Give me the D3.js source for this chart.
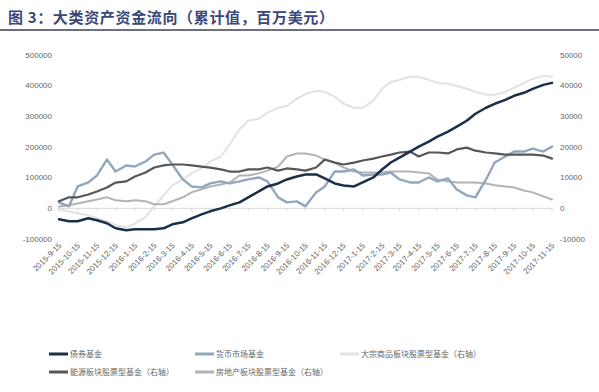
<!DOCTYPE html>
<html>
<head>
  <meta charset="utf-8">
  <title>大类资产资金流向</title>
  <style>
    body { margin: 0; background: #fff; }
    text { font-family: "Liberation Sans", Arial, "Noto Sans CJK SC", sans-serif; }
    .cjk { font-family: "Noto Sans CJK SC", sans-serif; }
    .tick-label { font-size: 8px; fill: #666; }
    .series { fill: none; stroke-linejoin: round; stroke-linecap: round; }
  </style>
</head>
<body>
  <svg id="chart" width="599" height="392"></svg>

  <script src="https://d3js.org/d3.v7.min.js"></script>
  <script>
    // semi-monthly observation dates
    const dates = [
      "2015-09-15", "2015-10-01", "2015-10-15", "2015-11-01", "2015-11-15", "2015-12-01", "2015-12-15",
      "2016-01-01", "2016-01-15", "2016-02-01", "2016-02-15", "2016-03-01", "2016-03-15",
      "2016-04-01", "2016-04-15", "2016-05-01", "2016-05-15", "2016-06-01", "2016-06-15",
      "2016-07-01", "2016-07-15", "2016-08-01", "2016-08-15", "2016-09-01", "2016-09-15",
      "2016-10-01", "2016-10-15", "2016-11-01", "2016-11-15", "2016-12-01", "2016-12-15",
      "2017-01-01", "2017-01-15", "2017-02-01", "2017-02-15", "2017-03-01", "2017-03-15",
      "2017-04-01", "2017-04-15", "2017-05-01", "2017-05-15", "2017-06-01", "2017-06-15",
      "2017-07-01", "2017-07-15", "2017-08-01", "2017-08-15", "2017-09-01", "2017-09-15",
      "2017-10-01", "2017-10-15", "2017-11-01", "2017-11-15"
    ];

    // left axis (百万美元)
    const bondFund = [
      -35700, -42200, -42200, -32500, -39000, -48700, -65000, -71400, -68200, -68200, -68200, -65000, -52000,
      -45500, -32500, -19500, -9700, 0, 9700, 19500, 35700, 55200, 71400, 81200, 94200,
      103900, 110400, 110400, 97400, 81200, 74700, 71400, 84400, 100700, 126600, 149400, 165600,
      185100, 201300, 217500, 233800, 250000, 266300, 285700, 308500, 328000, 340900, 353900, 366900,
      376700, 389600, 402600, 409100
    ];
    const moneyMarket = [
      19500, 6500, 71400, 84400, 107200, 159100, 120100, 139600, 136400, 152600, 175300, 181800, 142900,
      94200, 71400, 68200, 81200, 87700, 81200, 87700, 94200, 100700, 87700, 35700, 19500,
      22700, 6500, 52000, 71400, 120100, 120100, 126600, 107200, 110400, 110400, 116900, 94200,
      84400, 84400, 100700, 87700, 97400, 61700, 42200, 35700, 94200, 149400, 168800, 185100,
      185100, 194800, 185100, 201300
    ];

    // right axis (右轴)
    const commodityEquity = [
      -300, -1000, -1600, -2300, -3200, -4200, -5500, -6200, -4900, -2900, 600, 4200, 7500,
      9400, 11400, 13000, 15300, 16900, 20800, 25700, 28600, 29200, 31200, 32800, 33400,
      35700, 37300, 38300, 38000, 36400, 34100, 32800, 32800, 35100, 39000, 41200, 41900,
      42900, 42900, 41900, 40900, 40600, 39900, 39000, 38000, 37000, 37000, 38000, 39300,
      40900, 42200, 43200, 42900
    ];
    const energyEquity = [
      2300, 3600, 3600, 4500, 5500, 6800, 8400, 8800, 10400, 11700, 13300, 14000, 14300,
      14300, 14000, 13600, 13300, 12700, 12000, 12000, 12700, 12700, 13300, 12300, 13000,
      12700, 12300, 13300, 15900, 14900, 14300, 14900, 15600, 16200, 16900, 17500, 18200,
      18500, 16900, 18200, 18200, 17900, 19200, 19800, 18800, 18200, 17900, 17500, 17500,
      17500, 17500, 17200, 16200
    ];
    const realEstateEquity = [
      600, 1000, 1600, 2300, 2900, 3600, 2600, 2300, 2600, 2300, 1300, 1300, 2300,
      3600, 5200, 6200, 7100, 7800, 8400, 10700, 10700, 11400, 12300, 13600, 16900,
      17900, 17900, 17200, 15900, 14900, 13300, 12000, 11700, 11700, 11700, 12000, 12000,
      12000, 11700, 11400, 9400, 8800, 8400, 8400, 8400, 8100, 7500, 7100, 6800,
      5800, 5200, 3900, 2900
    ];

    const tickLabels = [
      "2015-9-15", "2015-10-15", "2015-11-15", "2015-12-15", "2016-1-15", "2016-2-15", "2016-3-15",
      "2016-4-15", "2016-5-15", "2016-6-15", "2016-7-15", "2016-8-15", "2016-9-15", "2016-10-15",
      "2016-11-15", "2016-12-15", "2017-1-15", "2017-2-15", "2017-3-15", "2017-4-15", "2017-5-15",
      "2017-6-15", "2017-7-15", "2017-8-15", "2017-9-15", "2017-10-15", "2017-11-15"
    ];
    const leftTicks = [500000, 400000, 300000, 200000, 100000, 0, -100000];
    const rightTicks = [50000, 40000, 30000, 20000, 10000, 0, -10000];

    const parseDate = d3.timeParse("%Y-%m-%d");
    const parseLabel = d3.timeParse("%Y-%-m-%-d");

    const svg = d3.select("#chart");

    // Title and rule
    svg.append("text")
      .attr("class", "cjk")
      .attr("x", 8)
      .attr("y", 23)
      .attr("font-size", 15)
      .attr("font-weight", "bold")
      .attr("fill", "#3a4778")
      .attr("textLength", 326)
      .attr("lengthAdjust", "spacing")
      .text("图 3：大类资产资金流向（累计值，百万美元）");

    svg.append("line")
      .attr("x1", 0).attr("x2", 599)
      .attr("y1", 30).attr("y2", 30)
      .attr("stroke", "#3c4158")
      .attr("stroke-width", 1.5);

    // Scales
    const x = d3.scaleTime()
      .domain([parseDate(dates[0]), parseDate(dates[dates.length - 1])])
      .range([59, 552]);
    const yLeft = d3.scaleLinear().domain([-100000, 500000]).range([239, 55]);
    const yRight = d3.scaleLinear().domain([-10000, 50000]).range([239, 55]);

    // Axis labels
    svg.selectAll(".left-label")
      .data(leftTicks)
      .enter().append("text")
      .attr("class", "tick-label")
      .attr("x", 52)
      .attr("y", d => yLeft(d))
      .attr("dy", "0.35em")
      .attr("text-anchor", "end")
      .text(d => d);

    svg.selectAll(".right-label")
      .data(rightTicks)
      .enter().append("text")
      .attr("class", "tick-label")
      .attr("x", 560)
      .attr("y", d => yRight(d))
      .attr("dy", "0.35em")
      .text(d => d);

    // Zero line with ticks
    svg.append("line")
      .attr("x1", 57).attr("x2", 553)
      .attr("y1", yLeft(0)).attr("y2", yLeft(0))
      .attr("stroke", "#d9d9d9")
      .attr("stroke-width", 1);

    svg.selectAll(".xtick")
      .data(tickLabels)
      .enter().append("line")
      .attr("x1", d => x(parseLabel(d)))
      .attr("x2", d => x(parseLabel(d)))
      .attr("y1", yLeft(0))
      .attr("y2", yLeft(0) + 3)
      .attr("stroke", "#d9d9d9");

    svg.selectAll(".x-label")
      .data(tickLabels)
      .enter().append("text")
      .attr("class", "tick-label")
      .attr("text-anchor", "end")
      .attr("transform", d => `translate(${x(parseLabel(d)) + 3},${246}) rotate(-45)`)
      .text(d => d);

    // Series
    const series = [
      { name: "大宗商品板块股票型基金（右轴）", values: commodityEquity, axis: yRight, color: "#e2e2e2", width: 2 },
      { name: "房地产板块股票型基金（右轴）", values: realEstateEquity, axis: yRight, color: "#b3b3b3", width: 2 },
      { name: "货币市场基金", values: moneyMarket, axis: yLeft, color: "#93a7bc", width: 2.4 },
      { name: "能源板块股票型基金（右轴）", values: energyEquity, axis: yRight, color: "#575757", width: 2.2 },
      { name: "债券基金", values: bondFund, axis: yLeft, color: "#1b2f48", width: 2.5 }
    ];

    series.forEach(s => {
      const line = d3.line()
        .x((d, i) => x(parseDate(dates[i])))
        .y(d => s.axis(d));
      svg.append("path")
        .datum(s.values)
        .attr("class", "series")
        .attr("d", line)
        .attr("stroke", s.color)
        .attr("stroke-width", s.width);
    });

    // Legend
    const legendItems = [
      { name: "债券基金", color: "#1b2f48", col: 0, row: 0 },
      { name: "货币市场基金", color: "#93a7bc", col: 1, row: 0 },
      { name: "大宗商品板块股票型基金（右轴）", color: "#e2e2e2", col: 2, row: 0 },
      { name: "能源板块股票型基金（右轴）", color: "#575757", col: 0, row: 1 },
      { name: "房地产板块股票型基金（右轴）", color: "#b3b3b3", col: 1, row: 1 }
    ];
    const colX = [49, 195, 340];
    const rowY = [354, 372];

    const legend = svg.selectAll(".legend")
      .data(legendItems)
      .enter().append("g")
      .attr("transform", d => `translate(${colX[d.col]},${rowY[d.row]})`);

    legend.append("line")
      .attr("x1", 0).attr("x2", 19)
      .attr("stroke", d => d.color)
      .attr("stroke-width", 3);

    legend.append("text")
      .attr("class", "cjk")
      .attr("x", 21)
      .attr("dy", "0.35em")
      .attr("font-size", 8)
      .attr("fill", "#666")
      .text(d => d.name);
  </script>
</body>
</html>
